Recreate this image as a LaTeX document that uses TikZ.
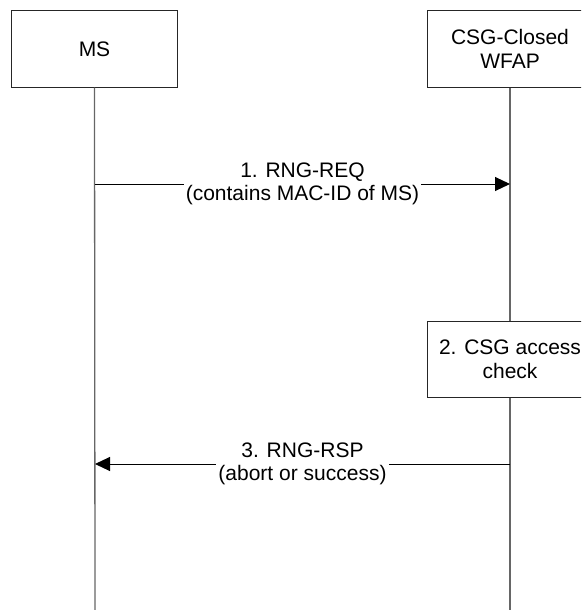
\documentclass[tikz,border=0pt]{standalone}
\usepackage{fontspec}
\setmainfont{Liberation Sans}
\usetikzlibrary{arrows.meta}
\begin{document}
\begin{tikzpicture}[x=1pt,y=-1pt,
  entity/.style={draw=black!85, line width=1pt, fill=white, minimum width=166pt,
    minimum height=76pt, align=center, inner sep=0pt,
    font=\fontsize{21}{24}\selectfont},
  lifeline/.style={draw=black!60, line width=1.3pt},
  msg/.style={draw=black, line width=1pt, -{Triangle[length=15pt,width=14pt]}},
  msglabel/.style={fill=white, align=center, inner xsep=2pt, inner ysep=0pt,
    font=\fontsize{21}{23}\selectfont}]
  \clip (0,0) rectangle (581,610);

  % actors
  \node[entity] (ms) at (94.5,49) {MS};
  \node[entity] (wfap) at (510,49) {CSG-Closed\\WFAP};

  % lifeline ends and message anchors
  \coordinate (msend) at (95,610);
  \coordinate (wfend) at (510,610);
  \coordinate (reqfrom) at (95,184);
  \coordinate (reqto) at (510,184);
  \coordinate (rspfrom) at (510,464);
  \coordinate (rspto) at (95,464);

  % processing step on the WFAP lifeline
  \node[entity] (chk) at (510,359) {2. CSG access\\check};

  % lifelines
  \draw[lifeline] (ms.south) -- (msend);
  \draw[lifeline] (wfap.south) -- (chk.north);
  \draw[lifeline] (chk.south) -- (wfend);

  % messages
  \draw[msg] (reqfrom) -- (reqto)
    node[msglabel, midway] {1. RNG-REQ\\(contains MAC-ID of MS)};
  \draw[msg] (rspfrom) -- (rspto)
    node[msglabel, midway] {3. RNG-RSP\\(abort or success)};
\end{tikzpicture}
\end{document}
